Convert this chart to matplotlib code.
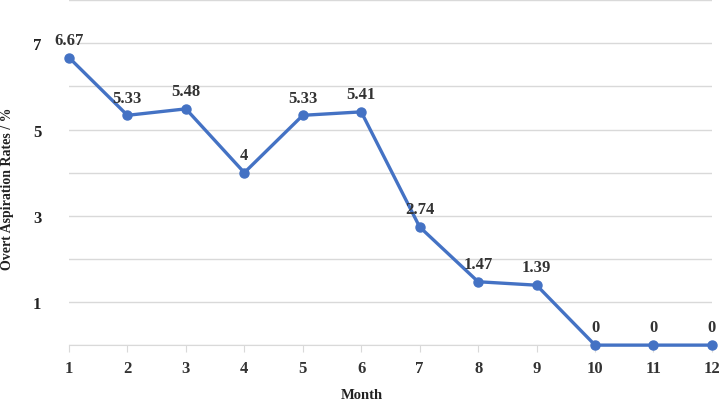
import matplotlib
matplotlib.use("Agg")
import matplotlib.pyplot as plt

months = [1, 2, 3, 4, 5, 6, 7, 8, 9, 10, 11, 12]
rates = [6.67, 5.33, 5.48, 4, 5.33, 5.41, 2.74, 1.47, 1.39, 0, 0, 0]
labels = ["6.67", "5.33", "5.48", "4", "5.33", "5.41", "2.74", "1.47", "1.39", "0", "0", "0"]
y_ticks = [1, 3, 5, 7]

plt.rcParams["font.family"] = ["Liberation Serif", "DejaVu Serif"]
plt.rcParams["font.weight"] = "bold"

fig = plt.figure(figsize=(7.2, 4.02), dpi=100)
ax = fig.add_axes([0.0958, 0.139, 0.893, 0.858])

color = "#4472C4"
ax.plot(months, rates, color=color, linewidth=2.4, marker="o", markersize=6.5, clip_on=False, zorder=3)

for x, y, t in zip(months, rates, labels):
    ax.annotate(t, (x, y), xytext=(0, 7), textcoords="offset points",
                ha="center", va="bottom", fontsize=12, fontweight="bold", color="#333333")

ax.set_xlim(1, 12)
ax.set_ylim(0, 8)
ax.set_xticks(months)
ax.set_yticks(range(0, 9))
ax.set_yticklabels([str(v) if v in y_ticks else "" for v in range(0, 9)])
ax.grid(axis="y", color="#d9d9d9", linewidth=1)
ax.set_axisbelow(True)

for s in ["top", "right", "left"]:
    ax.spines[s].set_visible(False)
ax.spines["bottom"].set_color("#d9d9d9")
ax.tick_params(axis="y", length=0, pad=20, labelsize=12, labelcolor="#222222")
ax.tick_params(axis="x", length=5, color="#d9d9d9", pad=6, labelsize=12, labelcolor="#333333")

# axis titles placed in figure coords
fig.text(362 / 720, 3 / 402, "Month", ha="center", va="baseline",
         fontsize=10.5, fontweight="bold", color="#222222")
fig.text(8 / 720, 1 - 189 / 402, "Overt Aspiration Rates / %", rotation=90,
         ha="center", va="center", fontsize=10, fontweight="bold", color="#222222")

fig.savefig("out.png", dpi=100)
